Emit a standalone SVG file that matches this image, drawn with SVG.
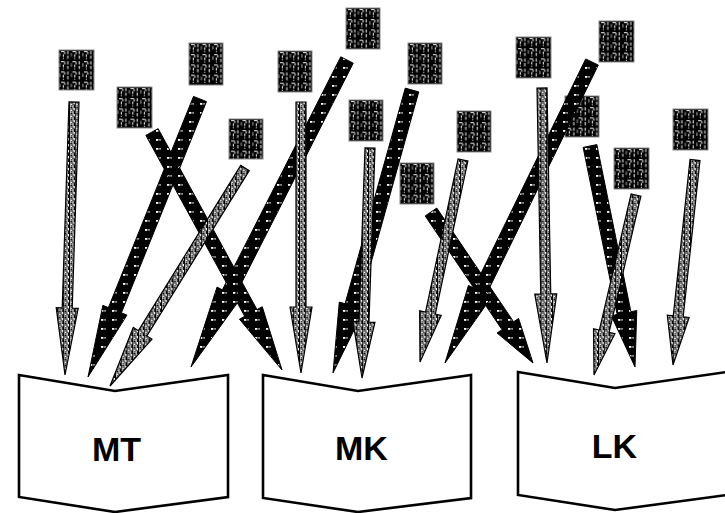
<svg xmlns="http://www.w3.org/2000/svg" width="725" height="513" viewBox="0 0 725 513">
<style>
.sq{fill:url(#patSq);stroke:#8a8a8a;stroke-width:1}
.thin{fill:url(#patThin);stroke:#000;stroke-width:1.2;stroke-linejoin:miter}
.thick{fill:url(#patThick);stroke:#000;stroke-width:1}
.book{fill:#fff;stroke:#000;stroke-width:2.6;stroke-linejoin:miter}
.lbl{font-family:"Liberation Sans",Arial,sans-serif;font-weight:bold;font-size:34px;text-anchor:middle;fill:#000}
</style>
<defs>
<pattern id="patSq" patternUnits="userSpaceOnUse" width="11.5" height="10.25">
<rect width="11.5" height="10.25" fill="#000"/>
<rect x="2" y="1" width="3.5" height="1" fill="#fff"/>
<rect x="5.2" y="2" width="1" height="2.2" fill="#fff"/>
<rect x="3.8" y="4.4" width="1" height="2.6" fill="#fff"/>
<rect x="3.8" y="8.2" width="1" height="1" fill="#fff"/>
<rect x="8.3" y="1" width="1" height="3.2" fill="#fff"/>
<rect x="8.3" y="5.6" width="1" height="3.2" fill="#fff"/>
<rect x="0.5" y="3" width="0.8" height="3.5" fill="#ccc"/>
</pattern>
<pattern id="patThin" patternUnits="userSpaceOnUse" width="5.75" height="6">
<rect width="5.75" height="6" fill="#fff"/>
<rect x="0" y="0" width="1.2" height="6" fill="#000"/>
<rect x="1.5" y="0.4" width="2.8" height="1.1" fill="#000"/>
<rect x="3.3" y="1.5" width="1.1" height="1.6" fill="#000"/>
<rect x="2.2" y="3" width="1.1" height="1.8" fill="#000"/>
<rect x="4.5" y="2.4" width="1.2" height="3.6" fill="#000"/>
<rect x="1.5" y="5" width="1.9" height="1" fill="#000"/>
</pattern>
<pattern id="patThick" patternUnits="userSpaceOnUse" width="11" height="9">
<rect width="11" height="9" fill="#000"/>
<rect x="2" y="4" width="2.4" height="1.8" fill="#fff"/>
<rect x="5.4" y="4.2" width="1.3" height="1.4" fill="#fff"/>
</pattern>
</defs>

<g id="sq1" transform="translate(59,50)"><rect class="sq" width="35" height="40"/></g>
<g id="sq2" transform="translate(117,87)"><rect class="sq" width="35" height="41"/></g>
<g id="sq3" transform="translate(189,43)"><rect class="sq" width="34" height="42"/></g>
<g id="sq4" transform="translate(229,119)"><rect class="sq" width="34" height="40"/></g>
<g id="sq5" transform="translate(278,51)"><rect class="sq" width="34" height="41"/></g>
<g id="sq6" transform="translate(346,8)"><rect class="sq" width="34" height="41"/></g>
<g id="sq7" transform="translate(408,43)"><rect class="sq" width="34" height="41"/></g>
<g id="sq8" transform="translate(349,100)"><rect class="sq" width="34" height="41"/></g>
<g id="sq9" transform="translate(400,163)"><rect class="sq" width="34" height="41"/></g>
<g id="sq10" transform="translate(457,111)"><rect class="sq" width="34" height="41"/></g>
<g id="sq11" transform="translate(516,37)"><rect class="sq" width="35" height="41"/></g>
<g id="sq12" transform="translate(599,21)"><rect class="sq" width="35" height="41"/></g>
<g id="sq13" transform="translate(565,96)"><rect class="sq" width="34" height="41"/></g>
<g id="sq14" transform="translate(614,148)"><rect class="sq" width="35" height="41"/></g>
<g id="sq15" transform="translate(673,109)"><rect class="sq" width="35" height="41"/></g>

<g id="connectors">
<polygon class="thick" points="193.51,96.38 108.42,307.60 102.85,305.36 88,377 126.97,315.08 121.40,312.84 206.49,101.62"/>
<polygon class="thick" points="145.86,135.36 244.70,316.31 239.43,319.18 282,370 262.25,306.72 256.98,309.59 158.14,128.64"/>
<polygon class="thick" points="340.76,56.83 222.36,289.83 217.01,287.11 191,367 240.19,298.89 234.84,296.17 353.24,63.17"/>
<polygon class="thick" points="405.26,88.12 345.08,303.70 339.30,302.09 333,373 364.34,309.08 358.56,307.46 418.74,91.88"/>
<polygon class="thick" points="425.20,215.92 502.01,329.63 497.04,332.99 533,363 518.58,318.43 513.61,321.79 436.80,208.08"/>
<polygon class="thick" points="585.71,58.93 473.82,288.05 468.43,285.41 445,363 491.79,296.82 486.40,294.19 598.29,65.07"/>
<polygon class="thick" points="583.14,147.40 617.17,314.51 611.29,315.70 635,367 636.77,310.52 630.89,311.71 596.86,144.60"/>

<polygon class="thin" points="69.00,101.84 62.21,307.88 56.22,307.68 65,375 78.20,308.40 72.21,308.20 79.00,102.16"/>
<polygon class="thin" points="240.75,165.37 138.39,330.66 133.29,327.50 110,386 151.99,339.08 146.89,335.92 249.25,170.63"/>
<polygon class="thin" points="296,102 296,307 290,307 301,373 312,307 306,307 306,102"/>
<polygon class="thin" points="365.00,147.83 358.95,321.86 352.96,321.65 362,378 374.94,322.41 368.95,322.20 375.00,148.17"/>
<polygon class="thin" points="458.11,158.96 425.52,312.06 419.65,310.81 420,362 441.17,315.39 435.30,314.14 467.89,161.04"/>
<polygon class="thin" points="537.00,88.09 540.75,294.10 534.75,294.21 547,363 556.75,293.81 550.75,293.92 547.00,87.91"/>
<polygon class="thin" points="631.13,193.86 599.35,330.04 593.51,328.68 594,375 614.93,333.68 609.09,332.32 640.87,196.14"/>
<polygon class="thin" points="690.03,159.47 673.26,315.75 667.29,315.11 673,365 689.17,317.45 683.20,316.81 699.97,160.53"/>
</g>

<g id="MT">
<polygon class="book" points="19,375 115,391 228,375 228,497 115,512 19,497"/>
<text class="lbl" x="116.5" y="461">MT</text>
</g>
<g id="MK">
<polygon class="book" points="263,375 358,391 471,375 471,498 358,512 263,498"/>
<text class="lbl" x="361.5" y="460">MK</text>
</g>
<g id="LK">
<polygon class="book" points="518,372 615,388 727,372 727,495 615,510 518,495"/>
<text class="lbl" x="614.3" y="457.5">LK</text>
</g>
</svg>
